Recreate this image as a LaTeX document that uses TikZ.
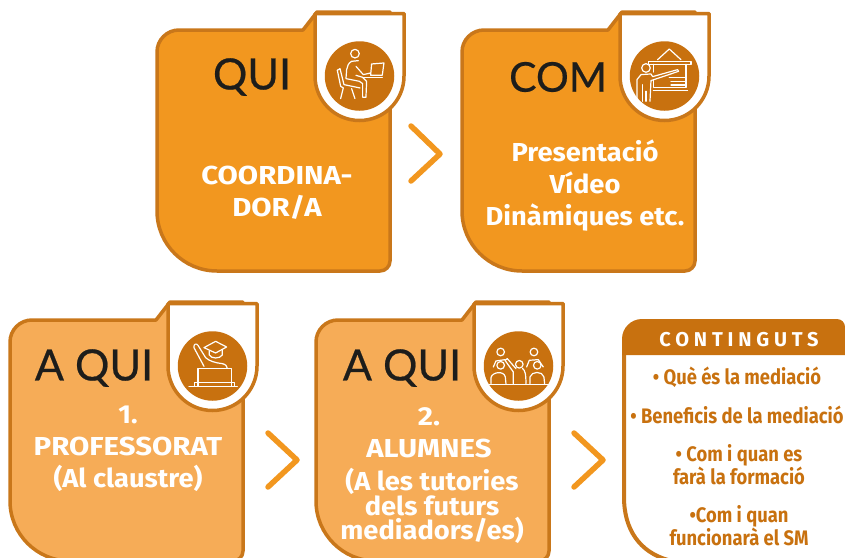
\documentclass[tikz,border=0pt]{standalone}
\usepackage{fontspec}
\setmainfont{Fira Sans}
\newfontfamily\titlefont[FakeBold=0.5]{Lato}
\newfontfamily\bodyfont[FakeStretch=1.05]{Fira Sans}
\newfontfamily\capsfont[FakeStretch=1.13]{Fira Sans}
\newfontfamily\narrowfont[FakeStretch=0.875]{Fira Sans}
\newfontfamily\spacedfont[LetterSpace=24]{Fira Sans}
\definecolor{cardorange}{HTML}{F2971F}
\definecolor{cardlight}{HTML}{F6AC57}
\definecolor{cardedge}{HTML}{C9771A}
\definecolor{carddark}{HTML}{C8710F}
\definecolor{titleblack}{HTML}{1D1D1B}
\tikzset{
	cardline/.style={draw=cardedge,line width=3.5pt,line join=round},
	iconline/.style={draw=white,line width=1.2pt,line join=round,line cap=round},
	icondisc/.style={circle,fill=carddark,minimum size=69.5pt,inner sep=0pt},
	titletext/.style={inner sep=0pt,text=titleblack,font=\titlefont\fontsize{43}{43}\selectfont},
	bodytext/.style={inner sep=0pt,text=white,align=center,font=\bodyfont\bfseries\fontsize{26}{32}\selectfont},
	listtext/.style={inner sep=0pt,text=carddark,align=center,font=\narrowfont\bfseries\fontsize{21}{20}\selectfont},
	chevron/.style={draw=cardorange,line width=5.5pt,line cap=round,line join=round}
}
\begin{document}
\begin{tikzpicture}[x=1pt,y=-1pt]
	\useasboundingbox (0,0) rectangle (845,557);
	\clip (0,0) rectangle (845,557);
	
	% cards with their shields
	\foreach \i/\xs/\ys/\cardfill in {1/157/30/cardorange,2/462/30/cardorange,3/10/320/cardlight,4/316/320/cardlight}{
		\begin{scope}[shift={(\xs,\ys)}]
			\draw[cardline,fill=\cardfill] (0,100) [rounded corners=22pt] -- (0,0) [sharp corners] -- (146,0) -- (160,-18) -- (233,-18) -- (233,100) [rounded corners=10pt] -- (233,241) [rounded corners=60pt] -- (0,241) [sharp corners] -- cycle;
			\draw[cardline,fill=white] (158,-16.5) -- (247,-16.5) -- (247,46) .. controls (247,70.6) and (227.1,90.5) .. (202.5,90.5) .. controls (177.9,90.5) and (158,70.6) .. (158,46) -- cycle;
			\node[icondisc] (disc\i) at (202.5,46) {};
		\end{scope}
	}
	
	% titles
	\node[titletext] (qui) at (252,77) {QUI};
	\node[titletext,font=\titlefont\fontsize{41}{41}\selectfont] (com) at (558,77) {COM};
	\node[titletext] (aquia) at (94,368) {A QUI};
	\node[titletext] (aquib) at (402,368) {A QUI};
	
	% texts of the cards
	\node[bodytext,font=\capsfont\bfseries\fontsize{26}{32}\selectfont] (coord) at (277,193) {COORDINA-\\DOR/A};
	\node[bodytext] (how) at (585,186) {Presentació\\Vídeo\\Dinàmiques etc.};
	\node[bodytext] (teachers) at (128,449) {1.\\{\capsfont PROFESSORAT}\\(Al claustre)};
	\node[bodytext,font=\capsfont\bfseries\fontsize{26}{32}\selectfont] (pupilsa) at (429,433) {2.\\ALUMNES};
	\node[bodytext,font=\bodyfont\bfseries\fontsize{26}{24.5}\selectfont] (pupilsb) at (432,506) {(A les tutories\\dels futurs\\mediadors/es)};
	
	% chevrons
	\draw[chevron] (411,126) -- (440,154) -- (411,181);
	\draw[chevron] (268,433) -- (297,460) -- (268,487);
	\draw[chevron] (574,433) -- (603,460) -- (574,487);
	
	% contents
	\draw[cardline,line width=4pt] (624,340) -- (624,497) .. controls (624,530) and (640,552) .. (668,560);
	\fill[carddark] (622,355) [rounded corners=20pt] -- (622,319) [rounded corners=8pt] -- (845,319) [sharp corners] -- (845,355) -- cycle;
	\node[inner sep=0pt,text=white,font=\spacedfont\bfseries\fontsize{20}{20}\selectfont] (contents) at (739,340) {CONTINGUTS};
	\node[listtext] (whatis) at (737,377) {• Què és la mediació};
	\node[listtext] (benefits) at (737,415) {• Beneficis de la mediació};
	\node[listtext] (when) at (739,465) {• Com i quan es\\farà la formació};
	\node[listtext] (works) at (739,526) {•Com i quan\\funcionarà el SM};
	
	% icon of the person at the desk
	\begin{scope}[shift={(320,38)},x=0.333pt,y=-0.333pt]
		\draw[iconline] (105,47) circle (4.3pt);
		\draw[iconline] (115,68) -- (95,70) .. controls (85,75) and (82,85) .. (80,95) -- (78,122) -- (118,130) -- (128,137) -- (128,178) -- (138,178) -- (140,130) -- (128,118) -- (108,112);
		\draw[iconline] (108,85) -- (130,110) -- (152,105);
		\draw[iconline] (52,97) -- (60,92) -- (72,140) -- (120,150);
		\draw[iconline] (52,97) -- (62,145) -- (70,150) -- (62,182);
		\draw[iconline] (95,152) -- (105,182);
		\draw[iconline] (155,78) -- (192,75) -- (187,112) -- (152,112) -- cycle;
		\draw[iconline] (128,118) -- (187,118);
	\end{scope}
	
	% icon of the teacher at the board
	\begin{scope}[shift={(626,38)},x=0.333pt,y=-0.333pt]
		\draw[iconline] (95,65) -- (130,33) -- (165,65);
		\draw[iconline] (68,70) rectangle (195,79);
		\draw[iconline] (82,79) -- (82,102);
		\draw[iconline] (180,79) -- (180,148) -- (82,148) -- (82,125);
		\draw[iconline] (82,157) -- (185,157);
		\draw[iconline] (60,90) circle (4.3pt);
		\draw[iconline] (33,190) -- (33,125) -- (45,110) -- (75,108) -- (80,116) -- (155,95) -- (158,100) -- (75,128) -- (72,190);
		\draw[iconline] (50,140) -- (50,190);
		\draw[iconline] (60,160) -- (60,190);
		\draw[iconline] (130,118) -- (178,118);
		\draw[iconline] (135,130) -- (178,130);
		\draw[iconline] (135,141) -- (178,141);
	\end{scope}
	
	% icon of the raised hand
	\begin{scope}[shift={(174,327)},x=0.333pt,y=-0.333pt]
		\draw[iconline] (90,118) -- (60,62) .. controls (58,50) and (68,48) .. (72,55) -- (95,92) .. controls (105,102) and (125,108) .. (145,110) .. controls (155,112) and (160,118) .. (160,124);
		\draw[iconline] (90,62) -- (125,43) -- (158,60) -- (125,78) -- cycle;
		\draw[iconline] (106,72) -- (106,84) .. controls (112,96) and (138,96) .. (145,84) -- (145,70);
		\draw[iconline] (72,177) -- (72,125) -- (172,125) -- (172,177);
		\draw[iconline] (45,178) -- (190,178);
		\draw[iconline] (62,178) -- (62,166) -- (182,166) -- (182,178);
	\end{scope}
	
	% icon of the group of pupils
	\begin{scope}[shift={(480,327)},x=0.333pt,y=-0.333pt]
		\draw[iconline] (28,172) -- (205,172);
		\foreach \hx/\hy in {62/75,162/75,118/112,62/115,172/115}{
			\draw[iconline] (\hx,\hy) circle (3.8pt);
		}
		\draw[iconline] (33,170) -- (33,152) .. controls (36,135) and (72,130) .. (76,150) -- (78,170);
		\draw[iconline] (150,170) -- (150,150) .. controls (155,132) and (188,132) .. (192,150) -- (194,170);
		\draw[iconline] (100,170) -- (100,135) -- (75,100) -- (82,95) -- (108,125);
		\draw[iconline] (128,125) .. controls (135,130) and (138,140) .. (138,170);
		\draw[iconline] (40,120) -- (48,102) -- (75,98);
		\draw[iconline] (140,120) -- (148,100) -- (175,98) -- (190,120);
	\end{scope}
\end{tikzpicture}
\end{document}
